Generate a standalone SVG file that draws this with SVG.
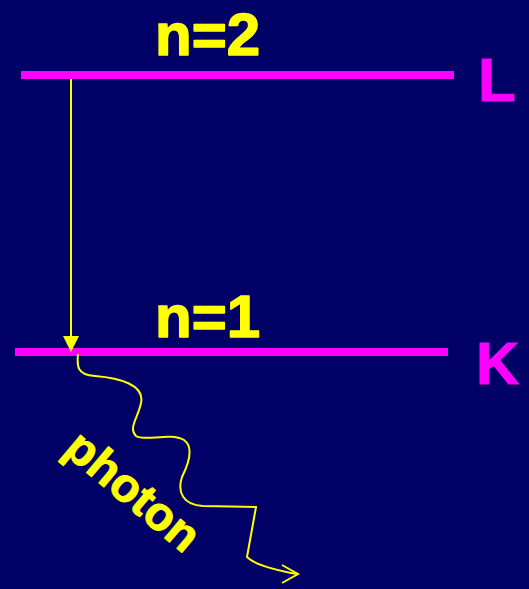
<svg xmlns="http://www.w3.org/2000/svg" width="529" height="589" viewBox="0 0 529 589">
<defs>
<style>
.lbl{font-family:"Liberation Sans",Arial,sans-serif;font-weight:bold;stroke-linejoin:round;}
.y{fill:#FFFF00;stroke:#FFFF00;}
.m{fill:#FF00FF;stroke:#FF00FF;}
.level{stroke:#FF00FF;stroke-width:8;fill:none;}
.ray{stroke:#FFFF00;stroke-width:2;fill:none;}
</style>
</defs>
<rect width="529" height="589" fill="#000066"/>
<g id="level-n2">
<line class="level" x1="21" y1="75" x2="454" y2="75"/>
<text class="lbl y" x="155" y="55" font-size="60" stroke-width="1.5">n=2</text>
<text class="lbl m" x="478" y="101" font-size="62" stroke-width="1">L</text>
</g>
<g id="level-n1">
<line class="level" x1="15" y1="352" x2="448" y2="352"/>
<text class="lbl y" x="155" y="337" font-size="60" stroke-width="1.5">n=1</text>
<text class="lbl m" x="476" y="384" font-size="60" stroke-width="1">K</text>
</g>
<g id="photon-label">
<text class="lbl y" x="0" y="0" font-size="47" stroke-width="1" transform="translate(62,452) rotate(40)">photon</text>
</g>
<g id="connectors">
<line class="ray" x1="71" y1="79" x2="71" y2="337"/>
<path d="M63,336 L79,336 L71,352 Z" fill="#FFFF00"/>
<path class="ray" d="M78,354 C77,365 76,375 95,376 C120,378 145,385 141,403 C138,418 128,428 136,436 C145,442 170,432 184,440 C195,448 188,465 182,477 C177,492 183,505 203,506 L256,507 L247,557 C255,565 275,570 297,574"/>
<path class="ray" d="M282,565 L298,574 L282,583"/>
</g>
</svg>
